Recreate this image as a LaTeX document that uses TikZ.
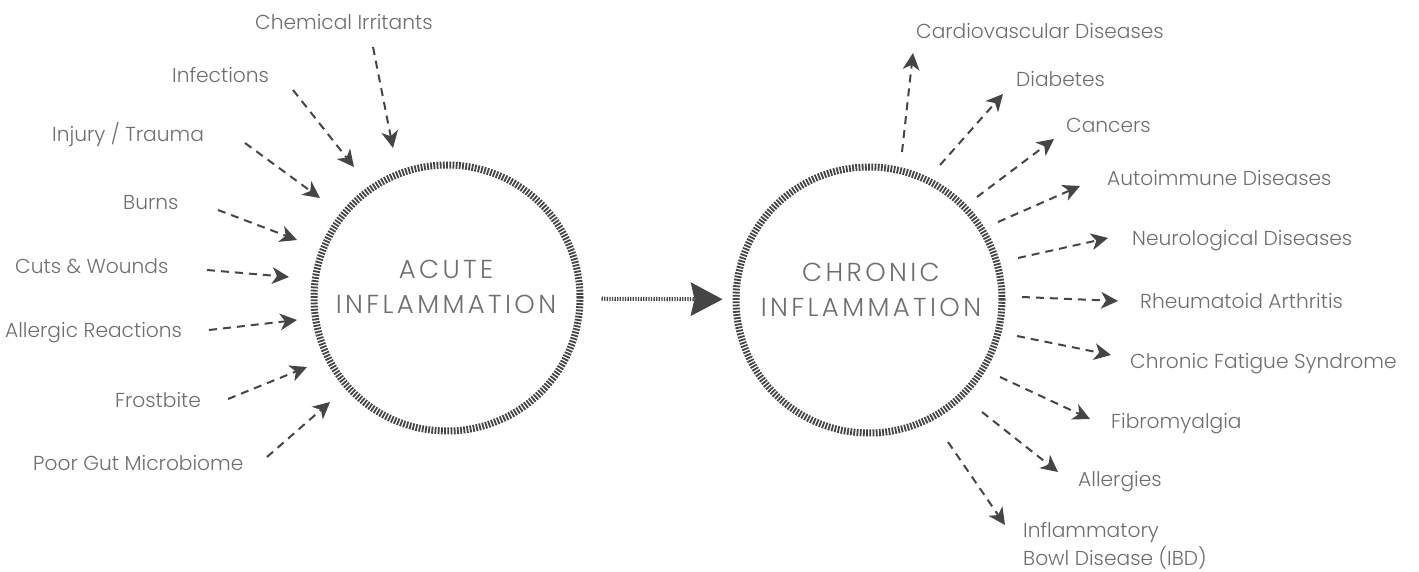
\documentclass[tikz,border=0pt]{standalone}
\usepackage{fontspec}
\IfFontExistsTF{Poppins Light}{\setmainfont{Poppins Light}}{\setmainfont{Poppins}}
\usetikzlibrary{arrows.meta}
\definecolor{txtgray}{HTML}{6E6E6E}
\definecolor{arrgray}{HTML}{454545}
\definecolor{ringgray}{HTML}{444444}
\tikzset{
  lbl/.style={anchor=base west, inner sep=0pt, text=txtgray, font=\fontsize{20.2}{24}\selectfont},
  ring/.style={circle, minimum size=266pt, inner sep=0pt, draw=ringgray, line width=7pt, dash pattern=on 1.8pt off 1.4pt},
  ringtext/.style={anchor=base, inner sep=0pt, align=center, text=txtgray, font=\fontsize{26}{35}\selectfont\addfontfeatures{LetterSpace=13}},
  spoke/.style={draw=arrgray, line width=2pt, dash pattern=on 8pt off 6pt, -{Stealth[length=17pt, width=17pt, inset=5pt, line width=0pt]}},
  bigarrow/.style={draw=arrgray, line width=4pt, dash pattern=on 1.3pt off 1.3pt, -{Stealth[length=32pt, width=34pt, inset=4pt, line width=0pt]}}
}
\begin{document}
\begin{tikzpicture}[x=1pt, y=-1pt]
\useasboundingbox (0,0) rectangle (1419,572);
% circles
\node[ring] (acute) at (447,298) {};
\node[ring] (chronic) at (869,300) {};
\node[ringtext] (acutetxt) at (446,313) {ACUTE\\INFLAMMATION};
\node[ringtext] (chronictxt) at (871,316) {CHRONIC\\INFLAMMATION};
\draw[bigarrow, shorten <=18pt, shorten >=10pt] (acute) -- (chronic);
% left labels
\node[lbl] (chem) at (255,30) {Chemical Irritants};
\node[lbl] (inf) at (172,83) {Infections};
\node[lbl] (inj) at (52,142) {Injury / Trauma};
\node[lbl] (burn) at (123,210) {Burns};
\node[lbl] (cuts) at (15,273) {Cuts \& Wounds};
\node[lbl] (allr) at (5,337) {Allergic Reactions};
\node[lbl] (frost) at (115,407) {Frostbite};
\node[lbl] (gut) at (33,470) {Poor Gut Microbiome};
% right labels
\node[lbl] (cardio) at (916,39) {Cardiovascular Diseases};
\node[lbl] (diab) at (1016,87) {Diabetes};
\node[lbl] (canc) at (1066,133) {Cancers};
\node[lbl] (auto) at (1107,186) {Autoimmune Diseases};
\node[lbl] (neuro) at (1132,246) {Neurological Diseases};
\node[lbl] (rheu) at (1140,308) {Rheumatoid Arthritis};
\node[lbl] (cfs) at (1130,368) {Chronic Fatigue Syndrome};
\node[lbl] (fibro) at (1111,428) {Fibromyalgia};
\node[lbl] (allg) at (1078,486) {Allergies};
\node[lbl] (ibd1) at (1023,537) {Inflammatory};
\node[lbl] (ibd2) at (1023,565) {Bowl Disease (IBD)};
% spoke endpoints (left)
\coordinate (t1) at (373,47);  \coordinate (h1) at (393,148);
\coordinate (t2) at (293,90);  \coordinate (h2) at (354,167);
\coordinate (t3) at (245,143); \coordinate (h3) at (320,198);
\coordinate (t4) at (218,210); \coordinate (h4) at (297,240);
\coordinate (t5) at (207,270); \coordinate (h5) at (289,277);
\coordinate (t6) at (209,330); \coordinate (h6) at (297,320);
\coordinate (t7) at (228,399); \coordinate (h7) at (307,367);
\coordinate (t8) at (267,457); \coordinate (h8) at (330,402);
% spoke endpoints (right)
\coordinate (s1) at (902,152);  \coordinate (e1) at (913,53);
\coordinate (s2) at (940,165);  \coordinate (e2) at (1003,94);
\coordinate (s3) at (977,197);  \coordinate (e3) at (1054,139);
\coordinate (s4) at (998,222);  \coordinate (e4) at (1080,186);
\coordinate (s5) at (1018,258); \coordinate (e5) at (1108,238);
\coordinate (s6) at (1022,297); \coordinate (e6) at (1118,301);
\coordinate (s7) at (1017,336); \coordinate (e7) at (1111,355);
\coordinate (s8) at (1000,377); \coordinate (e8) at (1090,419);
\coordinate (s9) at (982,412);  \coordinate (e9) at (1058,472);
\coordinate (s10) at (948,442); \coordinate (e10) at (1005,525);
\foreach \i in {1,...,8} { \draw[spoke] (t\i) -- (h\i); }
\foreach \i in {1,...,10} { \draw[spoke] (s\i) -- (e\i); }
\end{tikzpicture}
\end{document}
